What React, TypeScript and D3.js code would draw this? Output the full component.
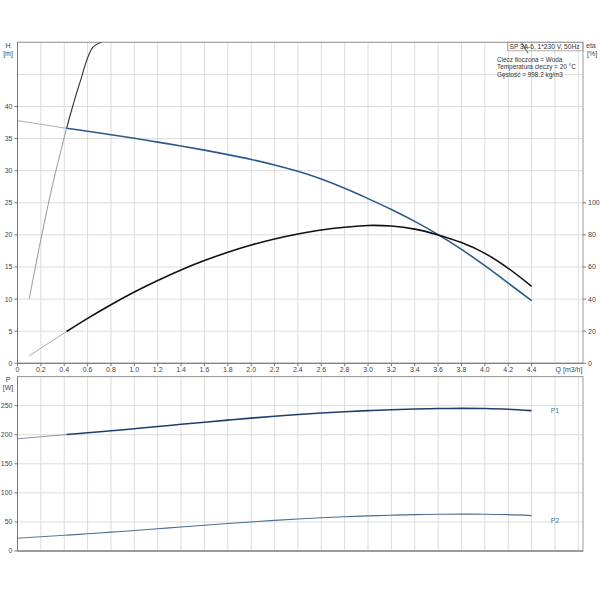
import React from 'react';
import * as d3 from 'd3';

// operating range of the pump curve (Q in m3/h)
const flowQ = [0.42, 0.6, 0.8, 1.0, 1.2, 1.4, 1.6, 1.8, 2.0, 2.2, 2.4, 2.6, 2.8, 3.0, 3.2, 3.4, 3.6, 3.8, 4.0, 4.2, 4.4];
const headH = [36.6, 36.15, 35.6, 35.05, 34.45, 33.85, 33.2, 32.5, 31.75, 30.9, 29.9, 28.7, 27.25, 25.65, 23.95, 22.1, 20.05, 17.75, 15.2, 12.5, 9.75];
const etaPct = [19.8, 28.0, 36.5, 44.4, 51.6, 58.2, 64.0, 69.2, 73.7, 77.5, 80.6, 83.1, 84.8, 85.9, 85.5, 83.6, 80.0, 75.2, 68.5, 59.2, 48.0];
const powerP1 = [200.3, 203.3, 206.8, 210.4, 214.1, 217.9, 221.6, 225.2, 228.6, 231.8, 234.7, 237.3, 239.6, 241.5, 243.1, 244.3, 245.0, 245.3, 245.0, 243.9, 241.5];
const powerP2 = [27.3, 29.6, 32.4, 35.3, 38.3, 41.3, 44.3, 47.2, 50.0, 52.6, 55.0, 57.1, 58.9, 60.4, 61.6, 62.5, 63.1, 63.4, 63.3, 62.5, 60.9];

// thin (outside range) parts
const headThinQ = [0, 0.42];
const headThinH = [37.8, 36.6];
const etaThinQ = [0.1, 0.42];
const etaThinPct = [4.7, 19.8];
const p1ThinQ = [0, 0.42];
const p1ThinP = [193, 200.3];
const p2ThinQ = [0, 0.42];
const p2ThinP = [22, 27.3];

// steep curve on the left
const steepThinQ = [0.1, 0.2, 0.3, 0.42];
const steepThinH = [10, 19.3, 27.8, 36.6];
const steepQ = [0.42, 0.53, 0.644, 0.72];
const steepH = [36.6, 43.5, 49.2, 50];

// small mark across the title box
const markQ = [4.3, 4.37];
const markH = [50.4, 48.3];

const qTicks = d3.range(0, 4.41, 0.2);
const qGrid = d3.range(0, 4.81, 0.2);
const hTicks = [0, 5, 10, 15, 20, 25, 30, 35, 40];
const hGrid = d3.range(0, 50.1, 5);
const etaTicks = [0, 20, 40, 60, 80, 100];
const pTicks = [0, 50, 100, 150, 200, 250];
const pGrid = d3.range(0, 301, 50);

const infoLines = ['Ciecz tłoczona = Woda', 'Temperatura cieczy = 20 °C', 'Gęstość = 998.2 kg/m3'];

const font = '"Liberation Sans", Arial, sans-serif';
const gridColor = '#dcdcdc';
const frameColor = '#9a9a9a';
const textColor = '#444';

export default function App() {
  const left = 17.5;
  const right = 583;
  const x = d3.scaleLinear().domain([0, 4.84]).range([left, right]);
  const yH = d3.scaleLinear().domain([0, 50]).range([363.3, 42.3]);
  const yEta = d3.scaleLinear().domain([0, 200]).range([363.3, 42.3]);
  const yP = d3.scaleLinear().domain([0, 300]).range([551, 376.6]);

  const path = (qs: number[], vs: number[], y: d3.ScaleLinear<number, number>, curve: d3.CurveFactory = d3.curveCatmullRom) =>
    d3.line<number>()
      .x((_d, i) => x(qs[i]))
      .y(d => y(d))
      .curve(curve)(vs) || '';

  const [top1, bot1] = [yH(50), yH(0)];
  const [top2, bot2] = [yP(300), yP(0)];

  return (
    <div style={{ position: 'absolute', left: 0, top: 0 }}>
      <svg width={600} height={600} style={{ fontFamily: font, display: 'block', background: '#fff' }}>
        <defs>
          <clipPath id="clipTop"><rect x={left} y={top1} width={right - left} height={bot1 - top1} /></clipPath>
        </defs>

        {/* ---- top plot grid ---- */}
        {qGrid.map(q => (
          <line key={'vg' + q} x1={x(q)} x2={x(q)} y1={top1} y2={bot1} stroke={gridColor} />
        ))}
        {hGrid.map(h => (
          <line key={'hg' + h} x1={left} x2={right} y1={yH(h)} y2={yH(h)} stroke={gridColor} />
        ))}
        <rect x={left} y={top1} width={right - left} height={bot1 - top1} fill="none" stroke={frameColor} />
        <line x1={left} x2={left} y1={top1} y2={bot1} stroke="#777" />
        <line x1={left} x2={right} y1={bot1} y2={bot1} stroke="#777" />

        {/* left axis */}
        {hTicks.map(h => (
          <g key={'ht' + h}>
            <line x1={left - 3} x2={left} y1={yH(h)} y2={yH(h)} stroke="#777" />
            <text x={left - 5} y={yH(h)} dy="0.35em" textAnchor="end" fontSize={7} fill={textColor}>{h}</text>
          </g>
        ))}
        <text x={8} y={48} textAnchor="middle" fontSize={7} fill={textColor}>H</text>
        <text x={8} y={56} textAnchor="middle" fontSize={7} fill={textColor}>[m]</text>

        {/* right axis */}
        {etaTicks.map(e => (
          <g key={'et' + e}>
            <line x1={right} x2={right + 3} y1={yEta(e)} y2={yEta(e)} stroke="#777" />
            <text x={right + 5} y={yEta(e)} dy="0.35em" fontSize={7} fill={textColor}>{e}</text>
          </g>
        ))}
        <text x={586} y={48} fontSize={7} fill={textColor}>eta</text>
        <text x={587} y={56} fontSize={7} fill={textColor}>[%]</text>

        {/* x axis */}
        {qTicks.map(q => (
          <g key={'qt' + q}>
            <line x1={x(q)} x2={x(q)} y1={bot1} y2={bot1 + 3} stroke="#777" />
            <text x={x(q)} y={bot1 + 9} textAnchor="middle" fontSize={7} fill={textColor}>{d3.format('.1f')(q).replace('0.0', '0')}</text>
          </g>
        ))}
        <text x={x(4.72)} y={bot1 + 9} textAnchor="middle" fontSize={7} fill={textColor}>Q [m3/h]</text>

        {/* curves */}
        <g clipPath="url(#clipTop)" fill="none">
          <path d={path(steepThinQ, steepThinH, yH)} stroke="#8a8a8a" strokeWidth={0.9} />
          <path d={path(steepQ, steepH, yH)} stroke="#333" strokeWidth={1.1} />
          <path d={path(headThinQ, headThinH, yH)} stroke="#9aa5b0" strokeWidth={0.9} />
          <path d={path(flowQ, headH, yH)} stroke="#2b5a8c" strokeWidth={1.6} />
          <path d={path(etaThinQ, etaThinPct, yEta)} stroke="#a0a0a0" strokeWidth={0.9} />
          <path d={path(flowQ, etaPct, yEta)} stroke="#111" strokeWidth={1.6} />
          <path d={path(markQ, markH, yH, d3.curveLinear)} stroke="#333" strokeWidth={0.9} />
        </g>

        {/* title box and info */}
        <rect x={507.7} y={top1} width={right - 507.7} height={8.5} fill="none" stroke={frameColor} strokeWidth={0.8} />
        <text x={509.5} y={top1 + 6.6} fontSize={6.6} fill="#333">SP 3A-6, 1*230 V, 50Hz</text>
        {infoLines.map((t, i) => (
          <text key={t} x={497} y={61.5 + i * 7.5} fontSize={6.4} fill="#333">{t}</text>
        ))}

        {/* ---- bottom plot ---- */}
        {qGrid.map(q => (
          <line key={'vg2' + q} x1={x(q)} x2={x(q)} y1={top2} y2={bot2} stroke={gridColor} />
        ))}
        {pGrid.map(p => (
          <line key={'pg' + p} x1={left} x2={right} y1={yP(p)} y2={yP(p)} stroke={gridColor} />
        ))}
        <rect x={left} y={top2} width={right - left} height={bot2 - top2} fill="none" stroke={frameColor} />
        <line x1={left} x2={left} y1={top2} y2={bot2} stroke="#777" />
        <line x1={left} x2={right} y1={bot2} y2={bot2} stroke="#777" />
        {pTicks.map(p => (
          <g key={'pt' + p}>
            <line x1={left - 3} x2={left} y1={yP(p)} y2={yP(p)} stroke="#777" />
            <text x={left - 5} y={yP(p)} dy="0.35em" textAnchor="end" fontSize={7} fill={textColor}>{p}</text>
          </g>
        ))}
        <text x={8} y={382} textAnchor="middle" fontSize={7} fill={textColor}>P</text>
        <text x={8} y={390} textAnchor="middle" fontSize={7} fill={textColor}>[W]</text>

        <g fill="none">
          <path d={path(p1ThinQ, p1ThinP, yP)} stroke="#8a98a8" strokeWidth={1} />
          <path d={path(flowQ, powerP1, yP)} stroke="#1f3f6a" strokeWidth={1.6} />
          <path d={path(p2ThinQ, p2ThinP, yP)} stroke="#5a7898" strokeWidth={1} />
          <path d={path(flowQ, powerP2, yP)} stroke="#4d6c8e" strokeWidth={1.1} />
        </g>
        <text x={x(4.6)} y={yP(241)} dy="0.35em" textAnchor="middle" fontSize={7} fill="#4a6f9a">P1</text>
        <text x={x(4.6)} y={yP(52)} dy="0.35em" textAnchor="middle" fontSize={7} fill="#4a6f9a">P2</text>
      </svg>
    </div>
  );
}
